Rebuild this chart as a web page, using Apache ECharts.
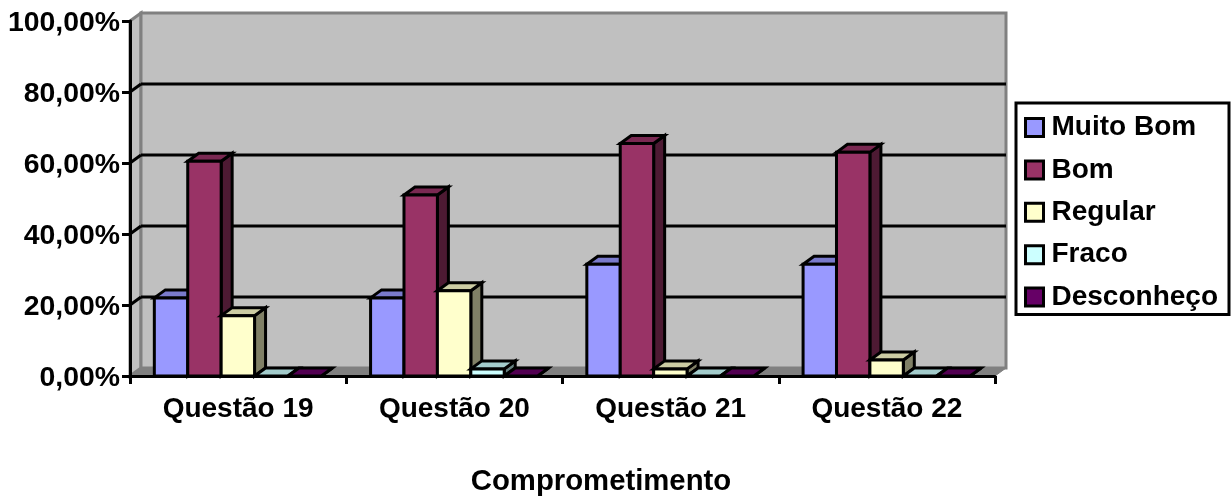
<!DOCTYPE html>
<html><head><meta charset="utf-8">
<script src="https://cdn.jsdelivr.net/npm/echarts@6/dist/echarts.min.js"></script>
<style>html,body{margin:0;padding:0;background:#fff}#c{width:1231px;height:499px}</style>
</head><body><div id="c"></div>
<script>
const categories = ['Questão 19','Questão 20','Questão 21','Questão 22'];
const muitoBom   = [22, 22, 31.5, 31.5];
const bom        = [60.5, 51, 65.5, 63];
const regular    = [17, 24, 2, 4.5];
const fraco      = [0, 2, 0, 0];
const desconheco = [0, 0, 0, 0];
const seriesNames = ['Muito Bom','Bom','Regular','Fraco','Desconheço'];
const seriesColors = ['#9999ff','#993366','#ffffcc','#ccffff','#660066'];
const gridValues = [20,40,60,80];
const yMax = 100, yStep = 20;

const DX = 11, DY = -8, FONT = 'Liberation Sans', LW = 3;
function shade(hex, f){
  const n = parseInt(hex.slice(1),16);
  return 'rgb(' + [n>>16,(n>>8)&255,n&255].map(v=>Math.round(v*f)).join(',') + ')';
}
function poly(points, fill, stroke, lw){
  return {type:'polygon', shape:{points}, style:{fill, stroke, lineWidth:lw, lineJoin:'miter'}};
}
function line(x1,y1,x2,y2,stroke,lw){
  return {type:'line', shape:{x1,y1,x2,y2}, style:{stroke, lineWidth:lw}};
}
function renderWalls(params, api){
  const band = api.size([1,0])[0];
  const x0 = api.coord([0,0])[0]-band/2, x1 = api.coord([categories.length-1,0])[0]+band/2;
  const y0 = api.coord([0,0])[1], yT = api.coord([0,yMax])[1];
  const kids = [
    poly([[x0,yT],[x0+DX,yT+DY],[x0+DX,y0+DY],[x0,y0]],'#c0c0c0','#808080',3),
    poly([[x0+DX,yT+DY],[x1+DX,yT+DY],[x1+DX,y0+DY],[x0+DX,y0+DY]],'#c0c0c0','#808080',3),
    poly([[x0,y0],[x0+DX,y0+DY],[x1+DX,y0+DY],[x1,y0]],'#808080','#808080',1)
  ];
  gridValues.forEach(v=>{
    const y = api.coord([0,v])[1];
    kids.push(line(x0,y,x0+DX,y+DY,'#000',LW));
    kids.push(line(x0+DX,y+DY,x1+DX,y+DY,'#000',LW));
  });
  return {type:'group', children:kids};
}
function makeBar(idx, color){
  return function(params, api){
    const c = api.coord([api.value(0), api.value(1)]);
    const base = api.coord([api.value(0), 0]);
    const band = api.size([1,0])[0];
    const w = band*0.1545;
    const xl = c[0]-band/2 + band*0.1125 + idx*w, xr = xl+w;
    const yt = c[1], yb = base[1];
    const kids = [];
    kids.push(poly([[xr,yt],[xr+DX,yt+DY],[xr+DX,yb+DY],[xr,yb]],shade(color,.5),'#000',LW));
    kids.push(poly([[xl,yt],[xl+DX,yt+DY],[xr+DX,yt+DY],[xr,yt]],shade(color,.8),'#000',LW));
    if (yb-yt>0.5) kids.push(poly([[xl,yt],[xr,yt],[xr,yb],[xl,yb]],color,'#000',LW));
    return {type:'group', children:kids};
  };
}
const barArrays = [muitoBom,bom,regular,fraco,desconheco];
const labelStyle = {fontFamily:FONT,fontWeight:'bold',fontSize:28,color:'#000'};
const chart = echarts.init(document.getElementById('c'),null,{renderer:'canvas'});
chart.setOption({
  animation:false,
  backgroundColor:'#fff',
  title:{text:'Comprometimento',left:601,top:465,textAlign:'center',padding:0,
    textStyle:{fontFamily:FONT,fontWeight:'bold',fontSize:29.3,color:'#000',lineHeight:34}},
  grid:{left:130,top:21,width:865,height:355,containLabel:false},
  legend:{orient:'vertical',left:1016,top:103,
    padding:[9.5,11,2.5,8],itemGap:12.4,itemWidth:18,itemHeight:18,icon:'rect',
    borderColor:'#000',borderWidth:3,backgroundColor:'#fff',selectedMode:false,
    data:seriesNames,
    itemStyle:{borderColor:'#000',borderWidth:3},
    textStyle:Object.assign({},labelStyle,{padding:[0,0,0,3],lineHeight:30})},
  xAxis:{type:'category',data:categories,z:5,
    axisLine:{show:true,lineStyle:{color:'#000',width:LW}},
    axisTick:{show:true,alignWithLabel:false,length:8,lineStyle:{color:'#000',width:LW}},
    axisLabel:Object.assign({},labelStyle,{margin:19,interval:0}),
    splitLine:{show:false}},
  yAxis:{type:'value',min:0,max:yMax,interval:yStep,z:5,
    axisLine:{show:true,lineStyle:{color:'#000',width:LW}},
    axisTick:{show:true,length:8,lineStyle:{color:'#000',width:LW}},
    axisLabel:{margin:10,formatter:v=>'{a|'+v.toFixed(2).replace('.',',')+'%}',
      rich:{a:{fontFamily:FONT,fontWeight:'bold',fontSize:28.4,color:'#000',padding:[4,0,0,0]}}},
    splitLine:{show:false}},
  series:[
    {type:'custom',name:'walls',z:1,silent:true,renderItem:renderWalls,data:[[0,0]],encode:{x:0,y:1}}
  ].concat(seriesNames.map((n,i)=>({
    type:'custom',name:n,z:2+i,itemStyle:{color:seriesColors[i]},
    renderItem:makeBar(i,seriesColors[i]),
    data:barArrays[i].map((v,k)=>[k,v]),encode:{x:0,y:1}
  })))
});
</script></body></html>
